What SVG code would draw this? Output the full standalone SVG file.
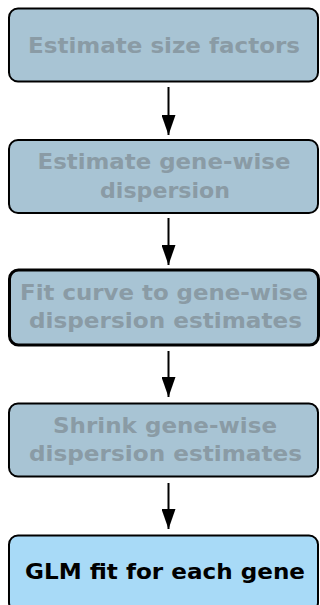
<svg xmlns="http://www.w3.org/2000/svg" width="320" height="605" viewBox="0 0 320 605">
<style>
.box{fill:#a8c4d4;stroke:#000;stroke-width:2}
.thick{stroke-width:3}
.final{fill:#a8daf7;stroke:#000;stroke-width:2}
.t{font-family:"DejaVu Sans","Liberation Sans",sans-serif;font-weight:bold;font-size:22px;fill:#8a9ba5;text-anchor:middle}
.tf{fill:#000}
.c{stroke:#000;stroke-width:2;fill:none;marker-end:url(#ah)}
</style>
<defs>
<marker id="ah" viewBox="0 0 20 14" refX="20" refY="7" markerWidth="20" markerHeight="14" orient="auto" markerUnits="userSpaceOnUse">
<path d="M0,0 L20,7 L0,14 z" fill="#000"/>
</marker>
</defs>
<g id="connectors">
<line class="c" x1="168.5" y1="87" x2="168.5" y2="135"/>
<line class="c" x1="168.5" y1="218" x2="168.5" y2="265"/>
<line class="c" x1="168.5" y1="351" x2="168.5" y2="397"/>
<line class="c" x1="168.5" y1="483" x2="168.5" y2="529"/>
</g>
<g id="n1">
<rect class="box" x="9" y="8.5" width="309" height="73" rx="9"/>
<text class="t" x="164" y="53" textLength="272" lengthAdjust="spacingAndGlyphs">Estimate size factors</text>
</g>
<g id="n2">
<rect class="box" x="9" y="140" width="309" height="73" rx="9"/>
<text class="t" x="164" y="169" textLength="253" lengthAdjust="spacingAndGlyphs">Estimate gene-wise</text>
<text class="t" x="165" y="197.5" textLength="130" lengthAdjust="spacingAndGlyphs">dispersion</text>
</g>
<g id="n3">
<rect class="box thick" x="9.5" y="270" width="309" height="75" rx="9"/>
<text class="t" x="164" y="300" textLength="288" lengthAdjust="spacingAndGlyphs">Fit curve to gene-wise</text>
<text class="t" x="165.5" y="328" textLength="273" lengthAdjust="spacingAndGlyphs">dispersion estimates</text>
</g>
<g id="n4">
<rect class="box" x="9" y="403.5" width="309" height="73" rx="9"/>
<text class="t" x="165" y="432.5" textLength="224" lengthAdjust="spacingAndGlyphs">Shrink gene-wise</text>
<text class="t" x="165.5" y="461" textLength="273" lengthAdjust="spacingAndGlyphs">dispersion estimates</text>
</g>
<g id="n5">
<rect class="final" x="9" y="535.5" width="309" height="76" rx="9"/>
<text class="t tf" x="165" y="578.5" textLength="280" lengthAdjust="spacingAndGlyphs">GLM fit for each gene</text>
</g>
</svg>
